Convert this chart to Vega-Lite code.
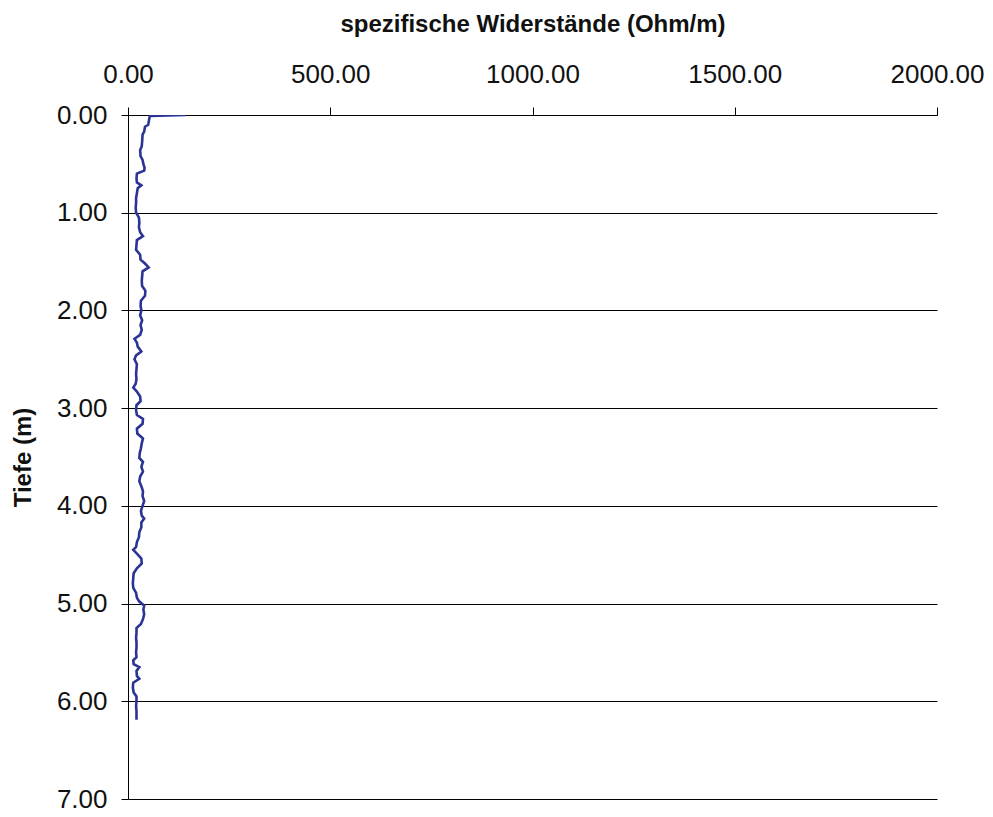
{
  "$schema": "https://vega.github.io/schema/vega-lite/v6.json",
  "autosize": "none",
  "padding": {"left": 128, "top": 115, "right": 56, "bottom": 18},
  "width": 809,
  "height": 684,
  "background": "white",
  "config": {
    "view": {"stroke": null},
    "font": "Liberation Sans"
  },
  "data": {
    "values": [
      {"d": 0.00, "r": 143}, {"d": 0.01, "r": 54}, {"d": 0.05, "r": 52}, {"d": 0.10, "r": 50},
      {"d": 0.12, "r": 42}, {"d": 0.17, "r": 40}, {"d": 0.20, "r": 36}, {"d": 0.27, "r": 35},
      {"d": 0.32, "r": 34}, {"d": 0.36, "r": 30}, {"d": 0.42, "r": 31}, {"d": 0.46, "r": 36},
      {"d": 0.50, "r": 38}, {"d": 0.54, "r": 41}, {"d": 0.57, "r": 40}, {"d": 0.60, "r": 22},
      {"d": 0.65, "r": 21}, {"d": 0.69, "r": 22}, {"d": 0.72, "r": 33}, {"d": 0.75, "r": 24},
      {"d": 0.80, "r": 22}, {"d": 0.85, "r": 20}, {"d": 0.90, "r": 20}, {"d": 0.95, "r": 19},
      {"d": 1.00, "r": 20}, {"d": 1.05, "r": 27}, {"d": 1.10, "r": 28}, {"d": 1.15, "r": 27},
      {"d": 1.20, "r": 30}, {"d": 1.24, "r": 37}, {"d": 1.28, "r": 22}, {"d": 1.33, "r": 21},
      {"d": 1.38, "r": 20}, {"d": 1.43, "r": 30}, {"d": 1.48, "r": 31}, {"d": 1.52, "r": 42},
      {"d": 1.56, "r": 51}, {"d": 1.60, "r": 36}, {"d": 1.65, "r": 35}, {"d": 1.70, "r": 34},
      {"d": 1.75, "r": 35}, {"d": 1.80, "r": 43}, {"d": 1.85, "r": 42}, {"d": 1.90, "r": 32},
      {"d": 1.95, "r": 31}, {"d": 2.00, "r": 33}, {"d": 2.05, "r": 30}, {"d": 2.10, "r": 35},
      {"d": 2.15, "r": 31}, {"d": 2.20, "r": 34}, {"d": 2.25, "r": 30}, {"d": 2.29, "r": 16},
      {"d": 2.33, "r": 22}, {"d": 2.37, "r": 24}, {"d": 2.42, "r": 33}, {"d": 2.46, "r": 20},
      {"d": 2.50, "r": 16}, {"d": 2.55, "r": 22}, {"d": 2.60, "r": 21}, {"d": 2.65, "r": 20},
      {"d": 2.70, "r": 21}, {"d": 2.75, "r": 19}, {"d": 2.79, "r": 13}, {"d": 2.83, "r": 22},
      {"d": 2.88, "r": 30}, {"d": 2.93, "r": 31}, {"d": 2.97, "r": 21}, {"d": 3.02, "r": 20},
      {"d": 3.07, "r": 22}, {"d": 3.11, "r": 37}, {"d": 3.16, "r": 36}, {"d": 3.21, "r": 22},
      {"d": 3.26, "r": 23}, {"d": 3.31, "r": 37}, {"d": 3.36, "r": 34}, {"d": 3.41, "r": 32},
      {"d": 3.46, "r": 29}, {"d": 3.51, "r": 28}, {"d": 3.55, "r": 37}, {"d": 3.60, "r": 33},
      {"d": 3.65, "r": 37}, {"d": 3.70, "r": 30}, {"d": 3.75, "r": 28}, {"d": 3.80, "r": 33},
      {"d": 3.85, "r": 37}, {"d": 3.90, "r": 36}, {"d": 3.95, "r": 40}, {"d": 4.00, "r": 36},
      {"d": 4.05, "r": 32}, {"d": 4.10, "r": 34}, {"d": 4.13, "r": 40}, {"d": 4.17, "r": 33},
      {"d": 4.22, "r": 33}, {"d": 4.27, "r": 28}, {"d": 4.32, "r": 27}, {"d": 4.37, "r": 22},
      {"d": 4.42, "r": 20}, {"d": 4.45, "r": 13}, {"d": 4.49, "r": 22}, {"d": 4.54, "r": 33},
      {"d": 4.59, "r": 34}, {"d": 4.64, "r": 22}, {"d": 4.69, "r": 14}, {"d": 4.74, "r": 13},
      {"d": 4.79, "r": 12}, {"d": 4.84, "r": 13}, {"d": 4.89, "r": 20}, {"d": 4.94, "r": 22},
      {"d": 4.98, "r": 28}, {"d": 5.02, "r": 40}, {"d": 5.06, "r": 38}, {"d": 5.11, "r": 40},
      {"d": 5.16, "r": 37}, {"d": 5.21, "r": 32}, {"d": 5.25, "r": 21}, {"d": 5.30, "r": 21},
      {"d": 5.35, "r": 20}, {"d": 5.40, "r": 21}, {"d": 5.45, "r": 21}, {"d": 5.50, "r": 20},
      {"d": 5.55, "r": 21}, {"d": 5.58, "r": 13}, {"d": 5.62, "r": 14}, {"d": 5.65, "r": 28},
      {"d": 5.69, "r": 21}, {"d": 5.74, "r": 22}, {"d": 5.77, "r": 28}, {"d": 5.81, "r": 13},
      {"d": 5.86, "r": 12}, {"d": 5.91, "r": 14}, {"d": 5.95, "r": 21}, {"d": 6.00, "r": 21},
      {"d": 6.05, "r": 20}, {"d": 6.10, "r": 21}, {"d": 6.15, "r": 21}, {"d": 6.19, "r": 21}
    ]
  },
  "mark": {"type": "line", "color": "#2B3494", "strokeWidth": 2.6, "clip": true},
  "encoding": {
    "x": {
      "field": "r",
      "type": "quantitative",
      "scale": {"domain": [0, 2000], "nice": false, "zero": false},
      "axis": {
        "orient": "top",
        "title": "spezifische Widerstände (Ohm/m)",
        "values": [0, 500, 1000, 1500, 2000],
        "format": ".2f",
        "grid": false,
        "domainColor": "#000000",
        "tickColor": "#000000",
        "tickSize": 8,
        "labelFontSize": 26,
        "labelColor": "#111111",
        "labelPadding": 25,
        "labelBaseline": "alphabetic",
        "labelFlush": false,
        "labelOverlap": false,
        "titleFontSize": 24,
        "titleFontWeight": "bold",
        "titleColor": "#111111",
        "titleBaseline": "middle",
        "titleY": -91
      }
    },
    "y": {
      "field": "d",
      "type": "quantitative",
      "scale": {"domain": [0, 7], "nice": false, "reverse": true, "zero": false},
      "axis": {
        "title": "Tiefe (m)",
        "values": [0, 1, 2, 3, 4, 5, 6, 7],
        "format": ".2f",
        "grid": true,
        "gridColor": "#000000",
        "gridOpacity": 1,
        "gridWidth": 1,
        "domainColor": "#000000",
        "tickColor": "#000000",
        "tickSize": 7,
        "labelFontSize": 26,
        "labelColor": "#111111",
        "labelPadding": 14,
        "labelOverlap": false,
        "labelFlush": false,
        "titleFontSize": 24,
        "titleFontWeight": "bold",
        "titleColor": "#111111",
        "titleBaseline": "middle",
        "titleX": -105
      }
    },
    "order": {"field": "d", "type": "quantitative"}
  }
}
